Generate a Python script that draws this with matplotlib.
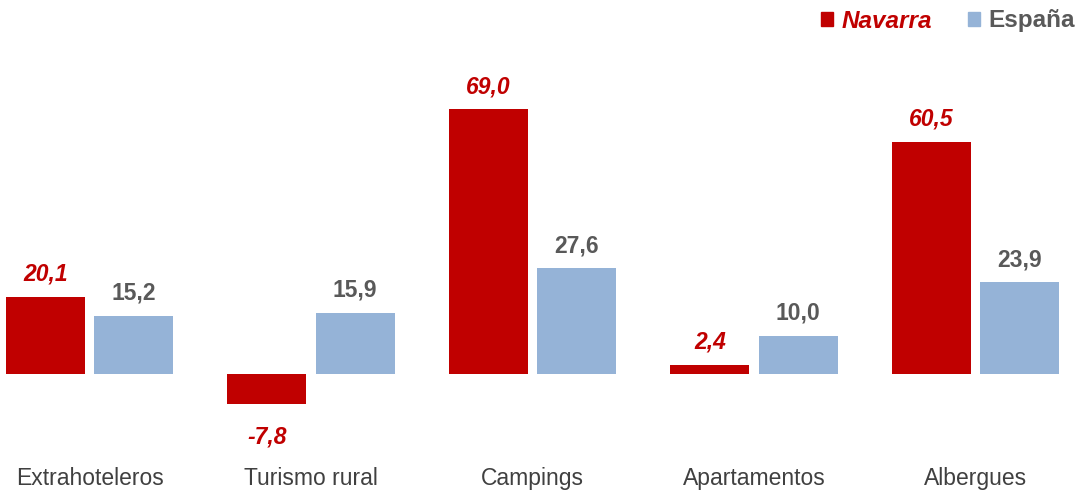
import matplotlib
matplotlib.use("Agg")
import matplotlib.pyplot as plt
from matplotlib.patches import Patch
import numpy as np

plt.rcParams['font.family'] = ['Liberation Sans', 'DejaVu Sans']

categories = ["Extrahoteleros", "Turismo rural", "Campings", "Apartamentos", "Albergues"]
navarra = [20.1, -7.8, 69.0, 2.4, 60.5]
espana = [15.2, 15.9, 27.6, 10.0, 23.9]

red = "#C00000"
blue = "#95B3D7"
gray = "#595959"

W, H = 1078, 494
fig = plt.figure(figsize=(W / 100, H / 100), dpi=100)
# axes placed in pixel terms: top at 40 px, bottom at 455 px
ax = fig.add_axes([0, (H - 455) / H, 1, (455 - 40) / H])

x = np.arange(len(categories))
w = 0.357
off = 0.199
ax.bar(x - off, navarra, w, color=red)
ax.bar(x + off, espana, w, color=blue)

ax.set_xlim((0 - 89.5) / 221.5, (W - 89.5) / 221.5)
ax.set_ylim(-(455 - 374) / 3.84, (374 - 40) / 3.84)

def fmt(v):
    return f"{v:.1f}".replace(".", ",")

for xi, v in zip(x, navarra):
    if v >= 0:
        ax.annotate(fmt(v), (xi - off, v), xytext=(0, 11), textcoords="offset pixels",
                    ha="center", va="bottom", color=red, fontsize=16.5,
                    fontweight="bold", fontstyle="italic")
    else:
        ax.annotate(fmt(v), (xi - off, v), xytext=(0, -22), textcoords="offset pixels",
                    ha="center", va="top", color=red, fontsize=16.5,
                    fontweight="bold", fontstyle="italic")
for xi, v in zip(x, espana):
    ax.annotate(fmt(v), (xi + off, v), xytext=(0, 11), textcoords="offset pixels",
                ha="center", va="bottom", color=gray, fontsize=16.5, fontweight="bold")

for xi, c in zip(x, categories):
    fig.text((89.5 + 221.5 * xi) / W, 1 - 478 / H, c, ha="center", va="center",
             fontsize=16.5, color="#404040")

for s in ax.spines.values():
    s.set_visible(False)
ax.set_xticks([])
ax.set_yticks([])

handles = [Patch(color=red), Patch(color=blue)]
leg = fig.legend(handles, ["Navarra", "España"], loc="center right",
                 bbox_to_anchor=(1.0 + 7 / W, 1 - 21 / H), ncol=2, frameon=False,
                 handlelength=0.5, handleheight=0.5, handletextpad=0.35,
                 columnspacing=1.5, borderaxespad=0.0,
                 prop={"size": 17.5, "weight": "bold"})
t1, t2 = leg.get_texts()
t1.set_color(red)
t1.set_fontstyle("italic")
t2.set_color(gray)

fig.savefig("out.png", dpi=100)
